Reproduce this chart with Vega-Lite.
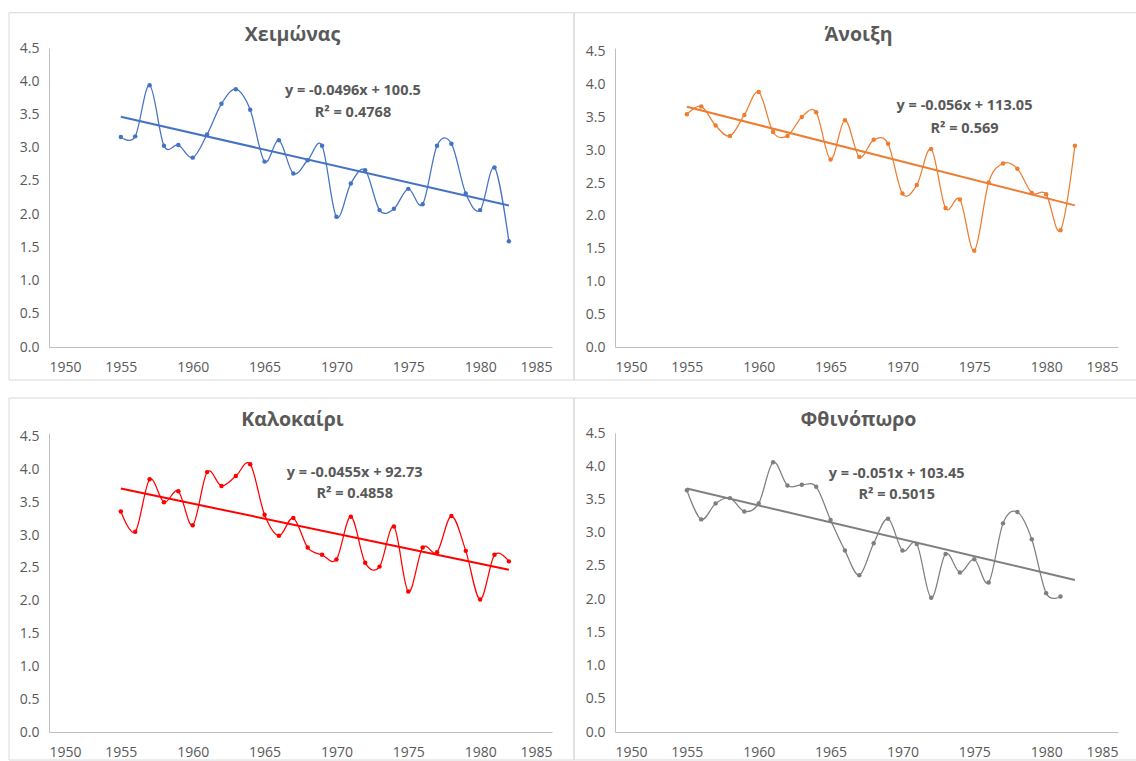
{
  "$schema": "https://vega.github.io/schema/vega-lite/v6.json",
  "background": "white",
  "padding": {"left": 8, "top": 12, "right": 0, "bottom": 0},
  "datasets": {
    "temps": [
      {"season": "Χειμώνας", "year": 1955, "value": 3.16},
      {"season": "Χειμώνας", "year": 1956, "value": 3.17},
      {"season": "Χειμώνας", "year": 1957, "value": 3.94},
      {"season": "Χειμώνας", "year": 1958, "value": 3.03},
      {"season": "Χειμώνας", "year": 1959, "value": 3.04},
      {"season": "Χειμώνας", "year": 1960, "value": 2.85},
      {"season": "Χειμώνας", "year": 1961, "value": 3.20},
      {"season": "Χειμώνας", "year": 1962, "value": 3.66},
      {"season": "Χειμώνας", "year": 1963, "value": 3.88},
      {"season": "Χειμώνας", "year": 1964, "value": 3.57},
      {"season": "Χειμώνας", "year": 1965, "value": 2.79},
      {"season": "Χειμώνας", "year": 1966, "value": 3.11},
      {"season": "Χειμώνας", "year": 1967, "value": 2.61},
      {"season": "Χειμώνας", "year": 1968, "value": 2.81},
      {"season": "Χειμώνας", "year": 1969, "value": 3.03},
      {"season": "Χειμώνας", "year": 1970, "value": 1.96},
      {"season": "Χειμώνας", "year": 1971, "value": 2.46},
      {"season": "Χειμώνας", "year": 1972, "value": 2.66},
      {"season": "Χειμώνας", "year": 1973, "value": 2.06},
      {"season": "Χειμώνας", "year": 1974, "value": 2.08},
      {"season": "Χειμώνας", "year": 1975, "value": 2.38},
      {"season": "Χειμώνας", "year": 1976, "value": 2.15},
      {"season": "Χειμώνας", "year": 1977, "value": 3.03},
      {"season": "Χειμώνας", "year": 1978, "value": 3.06},
      {"season": "Χειμώνας", "year": 1979, "value": 2.31},
      {"season": "Χειμώνας", "year": 1980, "value": 2.06},
      {"season": "Χειμώνας", "year": 1981, "value": 2.70},
      {"season": "Χειμώνας", "year": 1982, "value": 1.59},
      {"season": "Άνοιξη", "year": 1955, "value": 3.55},
      {"season": "Άνοιξη", "year": 1956, "value": 3.67},
      {"season": "Άνοιξη", "year": 1957, "value": 3.38},
      {"season": "Άνοιξη", "year": 1958, "value": 3.22},
      {"season": "Άνοιξη", "year": 1959, "value": 3.54},
      {"season": "Άνοιξη", "year": 1960, "value": 3.89},
      {"season": "Άνοιξη", "year": 1961, "value": 3.28},
      {"season": "Άνοιξη", "year": 1962, "value": 3.22},
      {"season": "Άνοιξη", "year": 1963, "value": 3.51},
      {"season": "Άνοιξη", "year": 1964, "value": 3.58},
      {"season": "Άνοιξη", "year": 1965, "value": 2.86},
      {"season": "Άνοιξη", "year": 1966, "value": 3.46},
      {"season": "Άνοιξη", "year": 1967, "value": 2.90},
      {"season": "Άνοιξη", "year": 1968, "value": 3.16},
      {"season": "Άνοιξη", "year": 1969, "value": 3.10},
      {"season": "Άνοιξη", "year": 1970, "value": 2.34},
      {"season": "Άνοιξη", "year": 1971, "value": 2.47},
      {"season": "Άνοιξη", "year": 1972, "value": 3.02},
      {"season": "Άνοιξη", "year": 1973, "value": 2.12},
      {"season": "Άνοιξη", "year": 1974, "value": 2.25},
      {"season": "Άνοιξη", "year": 1975, "value": 1.47},
      {"season": "Άνοιξη", "year": 1976, "value": 2.51},
      {"season": "Άνοιξη", "year": 1977, "value": 2.80},
      {"season": "Άνοιξη", "year": 1978, "value": 2.72},
      {"season": "Άνοιξη", "year": 1979, "value": 2.35},
      {"season": "Άνοιξη", "year": 1980, "value": 2.33},
      {"season": "Άνοιξη", "year": 1981, "value": 1.78},
      {"season": "Άνοιξη", "year": 1982, "value": 3.07},
      {"season": "Καλοκαίρι", "year": 1955, "value": 3.36},
      {"season": "Καλοκαίρι", "year": 1956, "value": 3.05},
      {"season": "Καλοκαίρι", "year": 1957, "value": 3.85},
      {"season": "Καλοκαίρι", "year": 1958, "value": 3.50},
      {"season": "Καλοκαίρι", "year": 1959, "value": 3.67},
      {"season": "Καλοκαίρι", "year": 1960, "value": 3.15},
      {"season": "Καλοκαίρι", "year": 1961, "value": 3.96},
      {"season": "Καλοκαίρι", "year": 1962, "value": 3.75},
      {"season": "Καλοκαίρι", "year": 1963, "value": 3.90},
      {"season": "Καλοκαίρι", "year": 1964, "value": 4.08},
      {"season": "Καλοκαίρι", "year": 1965, "value": 3.31},
      {"season": "Καλοκαίρι", "year": 1966, "value": 2.99},
      {"season": "Καλοκαίρι", "year": 1967, "value": 3.26},
      {"season": "Καλοκαίρι", "year": 1968, "value": 2.81},
      {"season": "Καλοκαίρι", "year": 1969, "value": 2.70},
      {"season": "Καλοκαίρι", "year": 1970, "value": 2.63},
      {"season": "Καλοκαίρι", "year": 1971, "value": 3.28},
      {"season": "Καλοκαίρι", "year": 1972, "value": 2.58},
      {"season": "Καλοκαίρι", "year": 1973, "value": 2.52},
      {"season": "Καλοκαίρι", "year": 1974, "value": 3.13},
      {"season": "Καλοκαίρι", "year": 1975, "value": 2.14},
      {"season": "Καλοκαίρι", "year": 1976, "value": 2.81},
      {"season": "Καλοκαίρι", "year": 1977, "value": 2.74},
      {"season": "Καλοκαίρι", "year": 1978, "value": 3.29},
      {"season": "Καλοκαίρι", "year": 1979, "value": 2.76},
      {"season": "Καλοκαίρι", "year": 1980, "value": 2.02},
      {"season": "Καλοκαίρι", "year": 1981, "value": 2.70},
      {"season": "Καλοκαίρι", "year": 1982, "value": 2.60},
      {"season": "Φθινόπωρο", "year": 1955, "value": 3.64},
      {"season": "Φθινόπωρο", "year": 1956, "value": 3.20},
      {"season": "Φθινόπωρο", "year": 1957, "value": 3.44},
      {"season": "Φθινόπωρο", "year": 1958, "value": 3.52},
      {"season": "Φθινόπωρο", "year": 1959, "value": 3.32},
      {"season": "Φθινόπωρο", "year": 1960, "value": 3.44},
      {"season": "Φθινόπωρο", "year": 1961, "value": 4.06},
      {"season": "Φθινόπωρο", "year": 1962, "value": 3.71},
      {"season": "Φθινόπωρο", "year": 1963, "value": 3.72},
      {"season": "Φθινόπωρο", "year": 1964, "value": 3.69},
      {"season": "Φθινόπωρο", "year": 1965, "value": 3.19},
      {"season": "Φθινόπωρο", "year": 1966, "value": 2.73},
      {"season": "Φθινόπωρο", "year": 1967, "value": 2.36},
      {"season": "Φθινόπωρο", "year": 1968, "value": 2.84},
      {"season": "Φθινόπωρο", "year": 1969, "value": 3.21},
      {"season": "Φθινόπωρο", "year": 1970, "value": 2.73},
      {"season": "Φθινόπωρο", "year": 1971, "value": 2.83},
      {"season": "Φθινόπωρο", "year": 1972, "value": 2.02},
      {"season": "Φθινόπωρο", "year": 1973, "value": 2.68},
      {"season": "Φθινόπωρο", "year": 1974, "value": 2.40},
      {"season": "Φθινόπωρο", "year": 1975, "value": 2.60},
      {"season": "Φθινόπωρο", "year": 1976, "value": 2.25},
      {"season": "Φθινόπωρο", "year": 1977, "value": 3.14},
      {"season": "Φθινόπωρο", "year": 1978, "value": 3.31},
      {"season": "Φθινόπωρο", "year": 1979, "value": 2.90},
      {"season": "Φθινόπωρο", "year": 1980, "value": 2.09},
      {"season": "Φθινόπωρο", "year": 1981, "value": 2.04}
    ]
  },
  "columns": 2,
  "spacing": {"row": 86, "column": 63},
  "bounds": "flush",
  "concat": [
    {
      "width": 503, "height": 299,
      "title": {"text": "Χειμώνας"},
      "layer": [
        {
          "data": {"values": [{}]},
          "mark": {"type": "rect", "fill": null, "stroke": "#d9d9d9", "strokeWidth": 1},
          "encoding": {
            "x": {"datum": 1947.22, "type": "quantitative", "scale": {"domain": [1950, 1985], "nice": false, "zero": false}, "axis": {"title": null, "values": [1950, 1955, 1960, 1965, 1970, 1975, 1980, 1985], "format": "d"}},
            "x2": {"datum": 1986.53},
            "y": {"datum": 5.031, "type": "quantitative", "scale": {"domain": [0, 4.5], "nice": false, "zero": false}, "axis": {"title": null, "values": [0, 0.5, 1, 1.5, 2, 2.5, 3, 3.5, 4, 4.5], "format": ".1f"}},
            "y2": {"datum": -0.497}
          }
        },
        {
          "data": {"name": "temps"},
          "transform": [{"filter": "datum.season === 'Χειμώνας'"}],
          "mark": {"type": "line", "interpolate": "cardinal", "tension": 0, "color": "#4472C4", "strokeWidth": 1.25},
          "encoding": {
            "x": {"field": "year", "type": "quantitative", "scale": {"domain": [1950, 1985], "nice": false, "zero": false}, "axis": {"title": null, "values": [1950, 1955, 1960, 1965, 1970, 1975, 1980, 1985], "format": "d"}},
            "y": {"field": "value", "type": "quantitative", "scale": {"domain": [0, 4.5], "nice": false, "zero": false}, "axis": {"title": null, "values": [0, 0.5, 1, 1.5, 2, 2.5, 3, 3.5, 4, 4.5], "format": ".1f"}}
          }
        },
        {
          "data": {"name": "temps"},
          "transform": [{"filter": "datum.season === 'Χειμώνας'"}],
          "mark": {"type": "point", "filled": true, "opacity": 1, "size": 20, "color": "#4472C4"},
          "encoding": {
            "x": {"field": "year", "type": "quantitative", "scale": {"domain": [1950, 1985], "nice": false, "zero": false}, "axis": {"title": null, "values": [1950, 1955, 1960, 1965, 1970, 1975, 1980, 1985], "format": "d"}},
            "y": {"field": "value", "type": "quantitative", "scale": {"domain": [0, 4.5], "nice": false, "zero": false}, "axis": {"title": null, "values": [0, 0.5, 1, 1.5, 2, 2.5, 3, 3.5, 4, 4.5], "format": ".1f"}}
          }
        },
        {
          "data": {"name": "temps"},
          "transform": [{"filter": "datum.season === 'Χειμώνας'"}, {"regression": "value", "on": "year", "extent": [1955, 1982]}],
          "mark": {"type": "line", "color": "#4472C4", "strokeWidth": 2},
          "encoding": {
            "x": {"field": "year", "type": "quantitative", "scale": {"domain": [1950, 1985], "nice": false, "zero": false}, "axis": {"title": null, "values": [1950, 1955, 1960, 1965, 1970, 1975, 1980, 1985], "format": "d"}},
            "y": {"field": "value", "type": "quantitative", "scale": {"domain": [0, 4.5], "nice": false, "zero": false}, "axis": {"title": null, "values": [0, 0.5, 1, 1.5, 2, 2.5, 3, 3.5, 4, 4.5], "format": ".1f"}}
          }
        },
        {
          "data": {"values": [{}]},
          "mark": {"type": "text", "text": "y = -0.0496x + 100.5", "fontWeight": "bold", "fontSize": 14.5, "color": "#595959", "align": "center", "baseline": "alphabetic"},
          "encoding": {
            "x": {"datum": 1971.15, "type": "quantitative", "scale": {"domain": [1950, 1985], "nice": false, "zero": false}, "axis": {"title": null, "values": [1950, 1955, 1960, 1965, 1970, 1975, 1980, 1985], "format": "d"}},
            "y": {"datum": 3.793, "type": "quantitative", "scale": {"domain": [0, 4.5], "nice": false, "zero": false}, "axis": {"title": null, "values": [0, 0.5, 1, 1.5, 2, 2.5, 3, 3.5, 4, 4.5], "format": ".1f"}}
          }
        },
        {
          "data": {"values": [{}]},
          "mark": {"type": "text", "text": "R² = 0.4768", "fontWeight": "bold", "fontSize": 14.5, "color": "#595959", "align": "center", "baseline": "alphabetic"},
          "encoding": {
            "x": {"datum": 1971.15, "type": "quantitative", "scale": {"domain": [1950, 1985], "nice": false, "zero": false}, "axis": {"title": null, "values": [1950, 1955, 1960, 1965, 1970, 1975, 1980, 1985], "format": "d"}},
            "y": {"datum": 3.462, "type": "quantitative", "scale": {"domain": [0, 4.5], "nice": false, "zero": false}, "axis": {"title": null, "values": [0, 0.5, 1, 1.5, 2, 2.5, 3, 3.5, 4, 4.5], "format": ".1f"}}
          }
        }
      ]
    },
    {
      "width": 503, "height": 299,
      "title": {"text": "Άνοιξη"},
      "layer": [
        {
          "data": {"values": [{}]},
          "mark": {"type": "rect", "fill": null, "stroke": "#d9d9d9", "strokeWidth": 1},
          "encoding": {
            "x": {"datum": 1947.15, "type": "quantitative", "scale": {"domain": [1950, 1985], "nice": false, "zero": false}, "axis": {"title": null, "values": [1950, 1955, 1960, 1965, 1970, 1975, 1980, 1985], "format": "d"}},
            "x2": {"datum": 1986.29},
            "y": {"datum": 5.0995, "type": "quantitative", "scale": {"domain": [0, 4.561], "nice": false, "zero": false}, "axis": {"title": null, "values": [0, 0.5, 1, 1.5, 2, 2.5, 3, 3.5, 4, 4.5], "format": ".1f"}},
            "y2": {"datum": -0.503}
          }
        },
        {
          "data": {"name": "temps"},
          "transform": [{"filter": "datum.season === 'Άνοιξη'"}],
          "mark": {"type": "line", "interpolate": "cardinal", "tension": 0, "color": "#ED7D31", "strokeWidth": 1.25},
          "encoding": {
            "x": {"field": "year", "type": "quantitative", "scale": {"domain": [1950, 1985], "nice": false, "zero": false}, "axis": {"title": null, "values": [1950, 1955, 1960, 1965, 1970, 1975, 1980, 1985], "format": "d"}},
            "y": {"field": "value", "type": "quantitative", "scale": {"domain": [0, 4.561], "nice": false, "zero": false}, "axis": {"title": null, "values": [0, 0.5, 1, 1.5, 2, 2.5, 3, 3.5, 4, 4.5], "format": ".1f"}}
          }
        },
        {
          "data": {"name": "temps"},
          "transform": [{"filter": "datum.season === 'Άνοιξη'"}],
          "mark": {"type": "point", "filled": true, "opacity": 1, "size": 20, "color": "#ED7D31"},
          "encoding": {
            "x": {"field": "year", "type": "quantitative", "scale": {"domain": [1950, 1985], "nice": false, "zero": false}, "axis": {"title": null, "values": [1950, 1955, 1960, 1965, 1970, 1975, 1980, 1985], "format": "d"}},
            "y": {"field": "value", "type": "quantitative", "scale": {"domain": [0, 4.561], "nice": false, "zero": false}, "axis": {"title": null, "values": [0, 0.5, 1, 1.5, 2, 2.5, 3, 3.5, 4, 4.5], "format": ".1f"}}
          }
        },
        {
          "data": {"name": "temps"},
          "transform": [{"filter": "datum.season === 'Άνοιξη'"}, {"regression": "value", "on": "year", "extent": [1955, 1982]}],
          "mark": {"type": "line", "color": "#ED7D31", "strokeWidth": 2},
          "encoding": {
            "x": {"field": "year", "type": "quantitative", "scale": {"domain": [1950, 1985], "nice": false, "zero": false}, "axis": {"title": null, "values": [1950, 1955, 1960, 1965, 1970, 1975, 1980, 1985], "format": "d"}},
            "y": {"field": "value", "type": "quantitative", "scale": {"domain": [0, 4.561], "nice": false, "zero": false}, "axis": {"title": null, "values": [0, 0.5, 1, 1.5, 2, 2.5, 3, 3.5, 4, 4.5], "format": ".1f"}}
          }
        },
        {
          "data": {"values": [{}]},
          "mark": {"type": "text", "text": "y = -0.056x + 113.05", "fontWeight": "bold", "fontSize": 14.5, "color": "#595959", "align": "center", "baseline": "alphabetic"},
          "encoding": {
            "x": {"datum": 1974.32, "type": "quantitative", "scale": {"domain": [1950, 1985], "nice": false, "zero": false}, "axis": {"title": null, "values": [1950, 1955, 1960, 1965, 1970, 1975, 1980, 1985], "format": "d"}},
            "y": {"datum": 3.615, "type": "quantitative", "scale": {"domain": [0, 4.561], "nice": false, "zero": false}, "axis": {"title": null, "values": [0, 0.5, 1, 1.5, 2, 2.5, 3, 3.5, 4, 4.5], "format": ".1f"}}
          }
        },
        {
          "data": {"values": [{}]},
          "mark": {"type": "text", "text": "R² = 0.569", "fontWeight": "bold", "fontSize": 14.5, "color": "#595959", "align": "center", "baseline": "alphabetic"},
          "encoding": {
            "x": {"datum": 1974.32, "type": "quantitative", "scale": {"domain": [1950, 1985], "nice": false, "zero": false}, "axis": {"title": null, "values": [1950, 1955, 1960, 1965, 1970, 1975, 1980, 1985], "format": "d"}},
            "y": {"datum": 3.269, "type": "quantitative", "scale": {"domain": [0, 4.561], "nice": false, "zero": false}, "axis": {"title": null, "values": [0, 0.5, 1, 1.5, 2, 2.5, 3, 3.5, 4, 4.5], "format": ".1f"}}
          }
        }
      ]
    },
    {
      "width": 503, "height": 299,
      "title": {"text": "Καλοκαίρι"},
      "layer": [
        {
          "data": {"values": [{}]},
          "mark": {"type": "rect", "fill": null, "stroke": "#d9d9d9", "strokeWidth": 1},
          "encoding": {
            "x": {"datum": 1947.22, "type": "quantitative", "scale": {"domain": [1950, 1985], "nice": false, "zero": false}, "axis": {"title": null, "values": [1950, 1955, 1960, 1965, 1970, 1975, 1980, 1985], "format": "d"}},
            "x2": {"datum": 1986.53},
            "y": {"datum": 5.089, "type": "quantitative", "scale": {"domain": [0, 4.556], "nice": false, "zero": false}, "axis": {"title": null, "values": [0, 0.5, 1, 1.5, 2, 2.5, 3, 3.5, 4, 4.5], "format": ".1f"}},
            "y2": {"datum": -0.427}
          }
        },
        {
          "data": {"name": "temps"},
          "transform": [{"filter": "datum.season === 'Καλοκαίρι'"}],
          "mark": {"type": "line", "interpolate": "cardinal", "tension": 0, "color": "#FF0000", "strokeWidth": 1.25},
          "encoding": {
            "x": {"field": "year", "type": "quantitative", "scale": {"domain": [1950, 1985], "nice": false, "zero": false}, "axis": {"title": null, "values": [1950, 1955, 1960, 1965, 1970, 1975, 1980, 1985], "format": "d"}},
            "y": {"field": "value", "type": "quantitative", "scale": {"domain": [0, 4.556], "nice": false, "zero": false}, "axis": {"title": null, "values": [0, 0.5, 1, 1.5, 2, 2.5, 3, 3.5, 4, 4.5], "format": ".1f"}}
          }
        },
        {
          "data": {"name": "temps"},
          "transform": [{"filter": "datum.season === 'Καλοκαίρι'"}],
          "mark": {"type": "point", "filled": true, "opacity": 1, "size": 20, "color": "#FF0000"},
          "encoding": {
            "x": {"field": "year", "type": "quantitative", "scale": {"domain": [1950, 1985], "nice": false, "zero": false}, "axis": {"title": null, "values": [1950, 1955, 1960, 1965, 1970, 1975, 1980, 1985], "format": "d"}},
            "y": {"field": "value", "type": "quantitative", "scale": {"domain": [0, 4.556], "nice": false, "zero": false}, "axis": {"title": null, "values": [0, 0.5, 1, 1.5, 2, 2.5, 3, 3.5, 4, 4.5], "format": ".1f"}}
          }
        },
        {
          "data": {"name": "temps"},
          "transform": [{"filter": "datum.season === 'Καλοκαίρι'"}, {"regression": "value", "on": "year", "extent": [1955, 1982]}],
          "mark": {"type": "line", "color": "#FF0000", "strokeWidth": 2},
          "encoding": {
            "x": {"field": "year", "type": "quantitative", "scale": {"domain": [1950, 1985], "nice": false, "zero": false}, "axis": {"title": null, "values": [1950, 1955, 1960, 1965, 1970, 1975, 1980, 1985], "format": "d"}},
            "y": {"field": "value", "type": "quantitative", "scale": {"domain": [0, 4.556], "nice": false, "zero": false}, "axis": {"title": null, "values": [0, 0.5, 1, 1.5, 2, 2.5, 3, 3.5, 4, 4.5], "format": ".1f"}}
          }
        },
        {
          "data": {"values": [{}]},
          "mark": {"type": "text", "text": "y = -0.0455x + 92.73", "fontWeight": "bold", "fontSize": 14.5, "color": "#595959", "align": "center", "baseline": "alphabetic"},
          "encoding": {
            "x": {"datum": 1971.27, "type": "quantitative", "scale": {"domain": [1950, 1985], "nice": false, "zero": false}, "axis": {"title": null, "values": [1950, 1955, 1960, 1965, 1970, 1975, 1980, 1985], "format": "d"}},
            "y": {"datum": 3.89, "type": "quantitative", "scale": {"domain": [0, 4.556], "nice": false, "zero": false}, "axis": {"title": null, "values": [0, 0.5, 1, 1.5, 2, 2.5, 3, 3.5, 4, 4.5], "format": ".1f"}}
          }
        },
        {
          "data": {"values": [{}]},
          "mark": {"type": "text", "text": "R² = 0.4858", "fontWeight": "bold", "fontSize": 14.5, "color": "#595959", "align": "center", "baseline": "alphabetic"},
          "encoding": {
            "x": {"datum": 1971.27, "type": "quantitative", "scale": {"domain": [1950, 1985], "nice": false, "zero": false}, "axis": {"title": null, "values": [1950, 1955, 1960, 1965, 1970, 1975, 1980, 1985], "format": "d"}},
            "y": {"datum": 3.561, "type": "quantitative", "scale": {"domain": [0, 4.556], "nice": false, "zero": false}, "axis": {"title": null, "values": [0, 0.5, 1, 1.5, 2, 2.5, 3, 3.5, 4, 4.5], "format": ".1f"}}
          }
        }
      ]
    },
    {
      "width": 503, "height": 299,
      "title": {"text": "Φθινόπωρο"},
      "layer": [
        {
          "data": {"values": [{}]},
          "mark": {"type": "rect", "fill": null, "stroke": "#d9d9d9", "strokeWidth": 1},
          "encoding": {
            "x": {"datum": 1947.15, "type": "quantitative", "scale": {"domain": [1950, 1985], "nice": false, "zero": false}, "axis": {"title": null, "values": [1950, 1955, 1960, 1965, 1970, 1975, 1980, 1985], "format": "d"}},
            "x2": {"datum": 1986.29},
            "y": {"datum": 5.027, "type": "quantitative", "scale": {"domain": [0, 4.5], "nice": false, "zero": false}, "axis": {"title": null, "values": [0, 0.5, 1, 1.5, 2, 2.5, 3, 3.5, 4, 4.5], "format": ".1f"}},
            "y2": {"datum": -0.421}
          }
        },
        {
          "data": {"name": "temps"},
          "transform": [{"filter": "datum.season === 'Φθινόπωρο'"}],
          "mark": {"type": "line", "interpolate": "cardinal", "tension": 0, "color": "#7F7F7F", "strokeWidth": 1.25},
          "encoding": {
            "x": {"field": "year", "type": "quantitative", "scale": {"domain": [1950, 1985], "nice": false, "zero": false}, "axis": {"title": null, "values": [1950, 1955, 1960, 1965, 1970, 1975, 1980, 1985], "format": "d"}},
            "y": {"field": "value", "type": "quantitative", "scale": {"domain": [0, 4.5], "nice": false, "zero": false}, "axis": {"title": null, "values": [0, 0.5, 1, 1.5, 2, 2.5, 3, 3.5, 4, 4.5], "format": ".1f"}}
          }
        },
        {
          "data": {"name": "temps"},
          "transform": [{"filter": "datum.season === 'Φθινόπωρο'"}],
          "mark": {"type": "point", "filled": true, "opacity": 1, "size": 20, "color": "#7F7F7F"},
          "encoding": {
            "x": {"field": "year", "type": "quantitative", "scale": {"domain": [1950, 1985], "nice": false, "zero": false}, "axis": {"title": null, "values": [1950, 1955, 1960, 1965, 1970, 1975, 1980, 1985], "format": "d"}},
            "y": {"field": "value", "type": "quantitative", "scale": {"domain": [0, 4.5], "nice": false, "zero": false}, "axis": {"title": null, "values": [0, 0.5, 1, 1.5, 2, 2.5, 3, 3.5, 4, 4.5], "format": ".1f"}}
          }
        },
        {
          "data": {"name": "temps"},
          "transform": [{"filter": "datum.season === 'Φθινόπωρο'"}, {"regression": "value", "on": "year", "extent": [1955, 1982]}],
          "mark": {"type": "line", "color": "#7F7F7F", "strokeWidth": 2},
          "encoding": {
            "x": {"field": "year", "type": "quantitative", "scale": {"domain": [1950, 1985], "nice": false, "zero": false}, "axis": {"title": null, "values": [1950, 1955, 1960, 1965, 1970, 1975, 1980, 1985], "format": "d"}},
            "y": {"field": "value", "type": "quantitative", "scale": {"domain": [0, 4.5], "nice": false, "zero": false}, "axis": {"title": null, "values": [0, 0.5, 1, 1.5, 2, 2.5, 3, 3.5, 4, 4.5], "format": ".1f"}}
          }
        },
        {
          "data": {"values": [{}]},
          "mark": {"type": "text", "text": "y = -0.051x + 103.45", "fontWeight": "bold", "fontSize": 14.5, "color": "#595959", "align": "center", "baseline": "alphabetic"},
          "encoding": {
            "x": {"datum": 1969.6, "type": "quantitative", "scale": {"domain": [1950, 1985], "nice": false, "zero": false}, "axis": {"title": null, "values": [1950, 1955, 1960, 1965, 1970, 1975, 1980, 1985], "format": "d"}},
            "y": {"datum": 3.827, "type": "quantitative", "scale": {"domain": [0, 4.5], "nice": false, "zero": false}, "axis": {"title": null, "values": [0, 0.5, 1, 1.5, 2, 2.5, 3, 3.5, 4, 4.5], "format": ".1f"}}
          }
        },
        {
          "data": {"values": [{}]},
          "mark": {"type": "text", "text": "R² = 0.5015", "fontWeight": "bold", "fontSize": 14.5, "color": "#595959", "align": "center", "baseline": "alphabetic"},
          "encoding": {
            "x": {"datum": 1969.6, "type": "quantitative", "scale": {"domain": [1950, 1985], "nice": false, "zero": false}, "axis": {"title": null, "values": [1950, 1955, 1960, 1965, 1970, 1975, 1980, 1985], "format": "d"}},
            "y": {"datum": 3.507, "type": "quantitative", "scale": {"domain": [0, 4.5], "nice": false, "zero": false}, "axis": {"title": null, "values": [0, 0.5, 1, 1.5, 2, 2.5, 3, 3.5, 4, 4.5], "format": ".1f"}}
          }
        }
      ]
    }
  ],
  "config": {
    "view": {"stroke": null},
    "font": "Open Sans",
    "axis": {
      "gridColor": "#d9d9d9",
      "gridWidth": 1,
      "domainColor": "#bfbfbf",
      "domainWidth": 1,
      "ticks": false,
      "labelColor": "#595959",
      "labelFont": "Open Sans",
      "labelFontSize": 14
    },
    "axisX": {"labelPadding": 13},
    "axisY": {"labelPadding": 10},
    "title": {
      "font": "Open Sans",
      "fontSize": 19.5,
      "fontWeight": "bold",
      "color": "#595959",
      "anchor": "middle",
      "frame": "group",
      "dx": -8,
      "offset": -33,
      "baseline": "alphabetic"
    }
  }
}
